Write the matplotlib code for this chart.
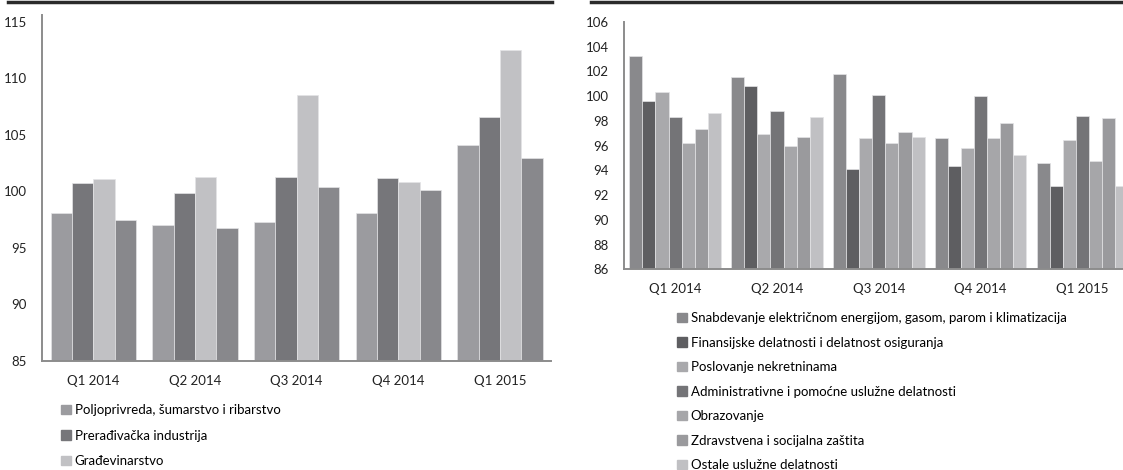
import numpy as np
import matplotlib
matplotlib.use("Agg")
import matplotlib.pyplot as plt
from matplotlib.lines import Line2D
from matplotlib.patches import Patch

plt.rcParams['font.family'] = ['Lato', 'DejaVu Sans']

quarters = ['Q1 2014', 'Q2 2014', 'Q3 2014', 'Q4 2014', 'Q1 2015']

# left panel
left_labels = ['Poljoprivreda, šumarstvo i ribarstvo',
               'Prerađivačka industrija',
               'Građevinarstvo',
               None]
poljoprivreda = [98.06, 97.03, 97.29, 98.13, 104.08]
preradjivacka = [100.74, 99.82, 101.25, 101.19, 106.55]
gradjevinarstvo = [101.07, 101.31, 108.51, 100.83, 112.47]
cetvrta = [97.44, 96.79, 100.42, 100.12, 102.92]
left_series = [poljoprivreda, preradjivacka, gradjevinarstvo, cetvrta]
left_colors = ['#9b9b9f', '#76767a', '#c1c1c4', '#88888c']

# right panel
right_labels = ['Snabdevanje električnom energijom, gasom, parom i klimatizacija',
                'Finansijske delatnosti i delatnost osiguranja',
                'Poslovanje nekretninama',
                'Administrativne i pomoćne uslužne delatnosti',
                'Obrazovanje',
                'Zdravstvena i socijalna zaštita',
                'Ostale uslužne delatnosti']
snabdevanje = [103.23, 101.56, 101.77, 96.61, 94.62]
finansije = [99.62, 100.83, 94.09, 94.35, 92.77]
nekretnine = [100.30, 96.94, 96.64, 95.83, 96.48]
administrativne = [98.33, 98.84, 100.13, 100.00, 98.41]
obrazovanje = [96.21, 95.99, 96.18, 96.61, 94.73]
zdravstvo = [97.37, 96.67, 97.10, 97.85, 98.20]
ostale = [98.66, 98.33, 96.67, 95.27, 92.77]
right_series = [snabdevanje, finansije, nekretnine, administrativne,
                obrazovanje, zdravstvo, ostale]
right_colors = ['#89898c', '#5e5e61', '#a9a9ac', '#747477', '#a6a6a9', '#9a9a9d', '#c0c0c3']

W, H = 1123, 470
fig = plt.figure(figsize=(W / 100, H / 100), dpi=100)
FS = 9.5

def px_axes(x0, x1, ytop, ybot):
    return fig.add_axes([x0 / W, 1 - ybot / H, (x1 - x0) / W, (ybot - ytop) / H])

def style(ax, ymin, ymax):
    ax.set_ylim(ymin, ymax)
    for s in ['top', 'right']:
        ax.spines[s].set_visible(False)
    for s in ['left', 'bottom']:
        ax.spines[s].set_color('#8c8c8c')
        ax.spines[s].set_linewidth(1.4)
    ax.tick_params(length=0, labelsize=FS, colors='#222222')
    ax.tick_params(axis='y', pad=11)
    ax.tick_params(axis='x', pad=10)
    ax.set_xlim(-0.5, 4.5)

x = np.arange(len(quarters))

ax1 = px_axes(42.4, 550.9, 15, 361)
bw = 0.21
n = len(left_series)
for i, vals in enumerate(left_series):
    ax1.bar(x + (i - (n - 1) / 2) * bw, np.array(vals) - 85, bw, bottom=85,
            color=left_colors[i], edgecolor='#e4e4e6', linewidth=0.5)
style(ax1, 85, 115.6)
ax1.set_yticks([85, 90, 95, 100, 105, 110, 115])
ax1.set_xticks(x, quarters)

h1 = [Patch(color=left_colors[i]) for i in range(3)]
fig.legend(h1, left_labels[:3], loc='upper left', bbox_to_anchor=(61 / W, 1 - 404 / H),
           frameon=False, fontsize=FS, handlelength=0.75, handleheight=0.75,
           handletextpad=0.3, labelspacing=1.03, borderpad=0, borderaxespad=0)

ax2 = px_axes(624.2, 1133.4, 22, 269.3)
bw2 = 0.1286
n2 = len(right_series)
for i, vals in enumerate(right_series):
    ax2.bar(x + (i - (n2 - 1) / 2) * bw2, np.array(vals) - 86, bw2, bottom=86,
            color=right_colors[i], edgecolor='#e4e4e6', linewidth=0.5)
style(ax2, 86, 106)
ax2.set_yticks(np.arange(86, 107, 2))
ax2.set_xticks(x, quarters)

h2 = [Patch(color=c) for c in right_colors]
fig.legend(h2, right_labels, loc='upper left', bbox_to_anchor=(677 / W, 1 - 312 / H),
           frameon=False, fontsize=FS, handlelength=0.75, handleheight=0.75,
           handletextpad=0.3, labelspacing=0.95, borderpad=0, borderaxespad=0)

# dark rules above each panel
fig.add_artist(Line2D([8 / W, 552 / W], [1 - 1.5 / H] * 2, color='#2b2b2b', lw=2.5))
fig.add_artist(Line2D([591 / W, 1], [1 - 1.5 / H] * 2, color='#2b2b2b', lw=2.5))

fig.savefig('out.png', dpi=100)
